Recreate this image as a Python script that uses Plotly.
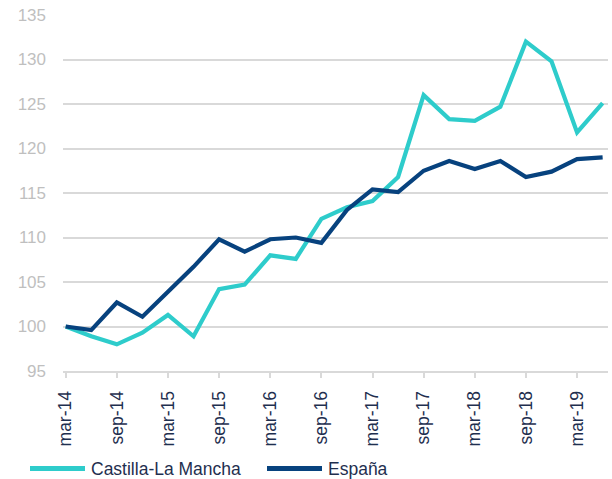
import plotly.graph_objects as go

# ---- data ----
quarters = ["mar-14", "jun-14", "sep-14", "dec-14", "mar-15", "jun-15", "sep-15", "dec-15",
            "mar-16", "jun-16", "sep-16", "dec-16", "mar-17", "jun-17", "sep-17", "dec-17",
            "mar-18", "jun-18", "sep-18", "dec-18", "mar-19", "jun-19"]
castilla = [100.0, 98.9, 98.0, 99.3, 101.3, 98.9, 104.2, 104.7, 108.0, 107.6, 112.1, 113.4,
            114.1, 116.8, 126.0, 123.3, 123.1, 124.7, 132.0, 129.8, 121.8, 125.1]
espana = [100.0, 99.6, 102.7, 101.1, 103.9, 106.7, 109.8, 108.4, 109.8, 110.0, 109.4, 113.1,
          115.4, 115.1, 117.5, 118.6, 117.7, 118.6, 116.8, 117.4, 118.8, 119.0]
series_names = ["Castilla-La Mancha", "España"]
series_colors = ["#2ECCCB", "#07427E"]
y_ticks = [95, 100, 105, 110, 115, 120, 125, 130, 135]

idx = list(range(len(quarters)))
tick_idx = idx[::2]
tick_txt = quarters[::2]

fig = go.Figure()
for name, vals, col in zip(series_names, [castilla, espana], series_colors):
    fig.add_trace(go.Scatter(x=idx, y=vals, mode="lines", name=name,
                             line=dict(color=col, width=4.2), showlegend=False))

FONT = "Liberation Sans, Arial, sans-serif"
fig.update_layout(
    width=612, height=479,
    margin=dict(l=63, r=4, t=15, b=108),
    paper_bgcolor="white", plot_bgcolor="white",
    font=dict(family=FONT),
    xaxis=dict(range=[-0.105, 21.21], tickmode="array", tickvals=tick_idx, ticktext=tick_txt,
               tickangle=-90, showgrid=False, zeroline=False,
               showline=True, linecolor="#D9D9D9", linewidth=2,
               ticks="outside", ticklen=5, tickwidth=2, tickcolor="#D9D9D9",
               tickfont=dict(size=17.5, color="#1F2F4F", family=FONT),
               ticklabelstandoff=6),
    yaxis=dict(range=[95, 135], tickmode="array", tickvals=y_ticks,
               showgrid=True, gridcolor="#D9D9D9", gridwidth=2, zeroline=False,
               showline=False, ticks="",
               tickfont=dict(size=17, color="#BFBFBF", family=FONT),
               ticklabelstandoff=16),
)

# legend drawn as paper-positioned samples + text
leg_y = 468.5
items = [(30, 85, 89), (267, 322, 326)]
for (x0, x1, tx), name, col in zip(items, series_names, series_colors):
    fig.add_shape(type="line", xref="paper", yref="paper",
                  x0=(x0 - 63) / 545, x1=(x1 - 63) / 545,
                  y0=(479 - 108 - leg_y) / 356, y1=(479 - 108 - leg_y) / 356,
                  line=dict(color=col, width=5))
    fig.add_annotation(xref="paper", yref="paper", x=(tx - 63) / 545,
                       y=(479 - 108 - leg_y) / 356, text=name, showarrow=False,
                       xanchor="left", yanchor="middle",
                       font=dict(size=17.5, color="#1F2F4F", family=FONT))

fig.write_html("out.html", config={"displayModeBar": False},
               post_script="document.body.style.margin='0';document.body.style.overflow='hidden';")
